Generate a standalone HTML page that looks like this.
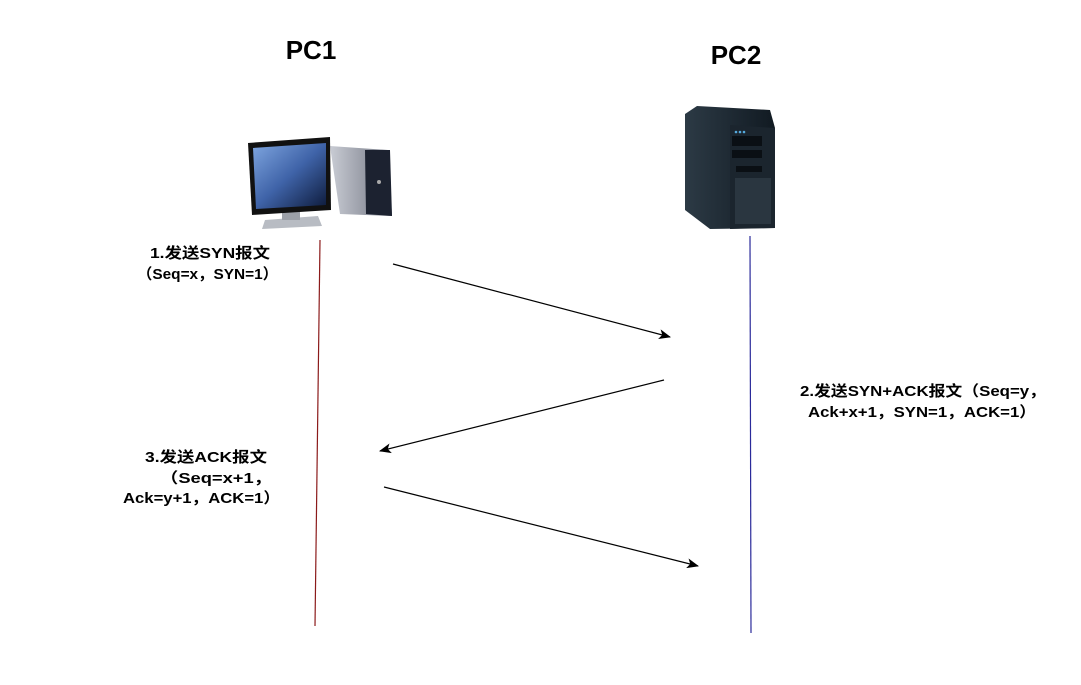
<!DOCTYPE html>
<html><head><meta charset="utf-8"><style>
html,body{margin:0;padding:0;background:#fff;}
svg text{font-family:"Liberation Sans","Noto Sans CJK SC",sans-serif;font-weight:bold;fill:#000;}
</style></head><body>
<svg width="1081" height="680" viewBox="0 0 1081 680" xmlns="http://www.w3.org/2000/svg">
<defs>
<linearGradient id="scr" x1="0" y1="0" x2="1" y2="1">
<stop offset="0" stop-color="#7fa6e0"/><stop offset="0.5" stop-color="#3f63a8"/><stop offset="1" stop-color="#0d1a3a"/></linearGradient>
<linearGradient id="case" x1="0" y1="0" x2="1" y2="0">
<stop offset="0" stop-color="#c9ccd4"/><stop offset="1" stop-color="#6f7380"/></linearGradient>
<linearGradient id="srv" x1="0" y1="0" x2="1" y2="0">
<stop offset="0" stop-color="#2c3a45"/><stop offset="1" stop-color="#111a22"/></linearGradient>
<marker id="ah" markerWidth="12" markerHeight="10" refX="11" refY="5" orient="auto" markerUnits="userSpaceOnUse">
<path d="M0,0 L12,5 L0,10 L3,5 z" fill="#000"/></marker>
</defs>
<text x="311" y="59" font-size="26" text-anchor="middle">PC1</text>
<text x="736" y="64" font-size="26" text-anchor="middle">PC2</text>
<!-- PC1 -->
<polygon points="330,146 388,150 392,216 340,214" fill="url(#case)"/>
<polygon points="365,150 390,150 392,216 366,214" fill="#1c2230"/>
<circle cx="379" cy="182" r="2" fill="#aaa"/>
<polygon points="265,220 318,216 322,226 262,229" fill="#b8bcc3"/>
<rect x="282" y="206" width="18" height="14" fill="#9ca0a8"/>
<polygon points="248,143 330,137 331,210 252,215" fill="#111"/>
<polygon points="253,148 326,143 326,205 256,209" fill="url(#scr)"/>
<!-- server -->
<polygon points="685,114 697,106 770,110 775,128 775,228 710,229 685,210" fill="url(#srv)"/>
<polygon points="730,125 775,128 775,228 730,229" fill="#1b252e"/>
<rect x="732" y="136" width="30" height="10" fill="#0a0f14"/>
<rect x="732" y="150" width="30" height="8" fill="#0a0f14"/>
<rect x="736" y="166" width="26" height="6" fill="#0a0f14"/>
<rect x="735" y="178" width="36" height="46" fill="#2a3640"/>
<circle cx="736" cy="132" r="1.3" fill="#5ad"/><circle cx="740" cy="132" r="1.3" fill="#5ad"/><circle cx="744" cy="132" r="1.3" fill="#5ad"/>
<!-- lifelines -->
<line x1="320" y1="240" x2="315" y2="626" stroke="#8b1a1a" stroke-width="1.2"/>
<line x1="750" y1="236" x2="751" y2="633" stroke="#2a2a9a" stroke-width="1.2"/>
<!-- arrows -->
<line x1="393" y1="264" x2="670" y2="337" stroke="#000" stroke-width="1.2" marker-end="url(#ah)"/>
<line x1="664" y1="380" x2="380" y2="451" stroke="#000" stroke-width="1.2" marker-end="url(#ah)"/>
<line x1="384" y1="487" x2="698" y2="566" stroke="#000" stroke-width="1.2" marker-end="url(#ah)"/>
<!-- labels -->
<text x="150" y="258" font-size="15" textLength="120" lengthAdjust="spacingAndGlyphs">1.发送SYN报文</text>
<text x="137" y="279" font-size="15" textLength="141" lengthAdjust="spacingAndGlyphs">（Seq=x，SYN=1）</text>
<text x="800" y="396" font-size="15" textLength="246" lengthAdjust="spacingAndGlyphs">2.发送SYN+ACK报文（Seq=y，</text>
<text x="808" y="417" font-size="15" textLength="228" lengthAdjust="spacingAndGlyphs">Ack+x+1，SYN=1，ACK=1）</text>
<text x="145" y="462" font-size="15" textLength="122" lengthAdjust="spacingAndGlyphs">3.发送ACK报文</text>
<text x="160" y="483" font-size="15" textLength="112" lengthAdjust="spacingAndGlyphs">（Seq=x+1，</text>
<text x="123" y="503" font-size="15" textLength="157" lengthAdjust="spacingAndGlyphs">Ack=y+1，ACK=1）</text>
</svg>
</body></html>
